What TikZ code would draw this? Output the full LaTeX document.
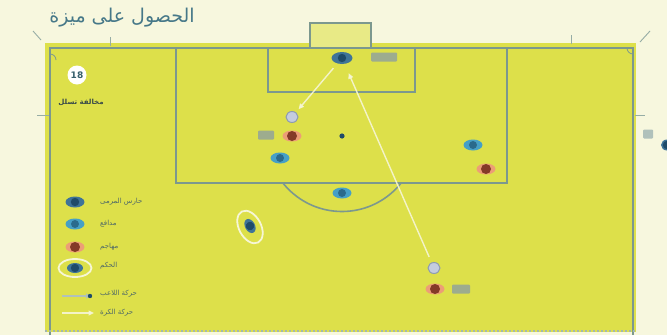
\documentclass[tikz,border=0pt]{standalone}
\usepackage{fontspec}
\setmainfont{DejaVu Sans}
\newfontfamily\arabicfont[Script=Arabic]{DejaVu Sans}
\TeXXeTstate=1
\usetikzlibrary{shapes.geometric,arrows.meta}
\definecolor{cream}{HTML}{F7F7DE}
\definecolor{pitch}{HTML}{DDE04A}
\definecolor{goalin}{HTML}{E8EA86}
\definecolor{pline}{HTML}{7C988E}
\definecolor{dkbody}{HTML}{3F7498}
\definecolor{dkhead}{HTML}{1F4B69}
\definecolor{cybody}{HTML}{46A0C6}
\definecolor{cyhead}{HTML}{2A6A8C}
\definecolor{rdbody}{HTML}{EC9E76}
\definecolor{rdhead}{HTML}{843A28}
\definecolor{lavfill}{HTML}{C4CCDE}
\definecolor{lavline}{HTML}{8E9CB0}
\definecolor{txt}{HTML}{4E6868}
\definecolor{ttl}{HTML}{467888}
\definecolor{tagc}{HTML}{9DAC8E}
\definecolor{ballc}{HTML}{F6F6D6}
\tikzset{
  plr/.style={ellipse, minimum width=19pt, minimum height=11pt, inner sep=0pt},
  dkp/.style={plr, fill=dkbody, path picture={\fill[dkhead] (path picture bounding box.center) circle (4.2pt);}},
  cyp/.style={plr, fill=cybody, path picture={\fill[cyhead] (path picture bounding box.center) circle (4pt);}},
  rdp/.style={plr, fill=rdbody, path picture={\fill[rdhead] (path picture bounding box.center) circle (5pt);}},
  ballp/.style={ellipse, minimum width=12pt, minimum height=11pt, inner sep=0pt, fill=lavfill, draw=lavline, line width=1pt},
  tagbox/.style={rectangle, rounded corners=1pt, fill=tagc, minimum height=9pt, inner sep=0pt},
  ringp/.style={ellipse, draw=ballc, line width=1.8pt, inner sep=0pt},
  lgtext/.style={anchor=west, text=txt, font=\arabicfont\fontsize{7}{8}\selectfont, inner sep=0pt},
  ballpath/.style={draw=ballc, line width=1.4pt, opacity=0.9, -{Triangle[width=5pt,length=5.5pt]}},
  tickmark/.style={draw=pline!80, line width=0.9pt}
}
\begin{document}
\begin{tikzpicture}[x=1pt,y=-1pt]
\useasboundingbox (0,0) rectangle (667,335);
\fill[cream] (0,0) rectangle (667,335);
\fill[pitch] (45,43) rectangle (636,332);
% goal
\fill[goalin] (310,23) rectangle (371,48);
\draw[pline, line width=2pt] (310,48) -- (310,23) -- (371,23) -- (371,48);
% touch lines
\draw[pline, line width=2.2pt] (50,335) -- (50,48) -- (633,48) -- (633,335);
\draw[pline!70, line width=1.2pt, dash pattern=on 2pt off 2pt] (45,331) -- (636,331);
% corner arcs
\draw[pline, line width=0.8pt] (50,54) arc[start angle=-90, end angle=0, x radius=6pt, y radius=-6pt];
\draw[pline, line width=0.8pt] (627,48) arc[start angle=180, end angle=90, x radius=6pt, y radius=-6pt];
% boxes
\draw[pline, line width=2pt] (176,48) -- (176,183) -- (507,183) -- (507,48);
\draw[pline, line width=2pt] (268,48) -- (268,92) -- (415,92) -- (415,48);
% penalty arc
\begin{scope}
\clip (200,183) rectangle (480,230);
\draw[pline, line width=1.6pt] (342,136) circle (75.5pt);
\end{scope}
\fill[dkhead] (342,136) circle (2.6pt);
% margin marks
\draw[tickmark] (33,31) -- (41,40);
\draw[tickmark] (110,37) -- (110,46);
\draw[tickmark] (571,35) -- (571,44);
\draw[tickmark] (650,31) -- (640,42);
\draw[tickmark] (37,115) -- (49,115);
\draw[tickmark] (635,115) -- (645,115);
\node[tagbox, minimum width=10pt, fill=pline!60] (edgetag) at (648,134) {};
\node[dkp, minimum width=12pt] (edgep) at (667,145) {};
% title
\node[text=ttl, font=\arabicfont\fontsize{19}{20}\selectfont, inner sep=0pt] (title) at (122,18) {\beginR الحصول على ميزة\endR};
% number badge
\node[circle, fill=white, minimum size=19pt, inner sep=0pt, text=ttl!80!black, font=\bfseries\fontsize{9}{9}\selectfont] (num) at (77,75) {18};
\node[text=txt!70!black, font=\arabicfont\bfseries\fontsize{7}{8}\selectfont, inner sep=0pt] (sub) at (81,102) {\beginR مخالفة تسلل\endR};
% players
\node[dkp, minimum width=21pt, minimum height=12pt] (gk) at (342,58) {};
\node[tagbox, minimum width=26pt] (gktag) at (384,57) {};
\node[ballp] (ball1) at (292,117) {};
\node[rdp] (at1) at (292,136) {};
\node[tagbox, minimum width=16pt] (at1tag) at (266,135) {};
\node[cyp] (df1) at (280,158) {};
\node[cyp] (df2) at (473,145) {};
\node[rdp] (at2) at (486,169) {};
\node[cyp] (df3) at (342,193) {};
\node[ringp, minimum width=22pt, minimum height=35pt, rotate=28] (refring) at (250,227) {};
\node[dkp, minimum width=15pt, minimum height=10pt, rotate=-62] (ref) at (250,226) {};
\node[ballp] (ball2) at (434,268) {};
\node[rdp] (at3) at (435,289) {};
\node[tagbox, minimum width=18pt] (at3tag) at (461,289) {};
% ball movement
\draw[ballpath, shorten <=6pt, shorten >=10pt] (ball2) -- (gk);
\draw[ballpath, shorten <=6pt, shorten >=4pt] (gk) -- (ball1);
% legend
\node[dkp] (lg1) at (75,202) {};
\node[cyp] (lg2) at (75,224) {};
\node[rdp] (lg3) at (75,247) {};
\node[ringp, minimum width=33pt, minimum height=18pt] (lg4r) at (75,268) {};
\node[dkp, minimum width=16pt, minimum height=10pt] (lg4) at (75,268) {};
\coordinate (lg5a) at (62,296);
\coordinate (lg5b) at (90,296);
\draw[pline!60, line width=1.2pt, -{Triangle[width=5pt,length=4pt]}] (lg5a) -- (lg5b);
\fill[dkhead] (lg5b) circle (2.2pt);
\coordinate (lg6a) at (62,313);
\coordinate (lg6b) at (94,313);
\draw[ballpath] (lg6a) -- (lg6b);
\node[lgtext] (t1) at (100,202) {\beginR حارس المرمى\endR};
\node[lgtext] (t2) at (100,224) {\beginR مدافع\endR};
\node[lgtext] (t3) at (100,247) {\beginR مهاجم\endR};
\node[lgtext] (t4) at (100,266) {\beginR الحكم\endR};
\node[lgtext] (t5) at (100,294) {\beginR حركة اللاعب\endR};
\node[lgtext] (t6) at (100,313) {\beginR حركة الكرة\endR};
\end{tikzpicture}
\end{document}
